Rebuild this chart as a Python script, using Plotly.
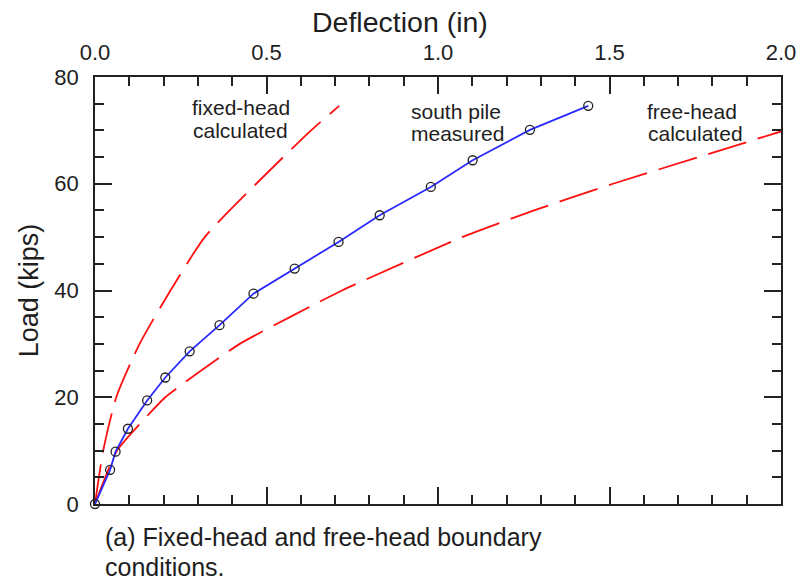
import plotly.graph_objects as go

# Measured load-deflection for the south pile
measured_defl = [0, 0.044, 0.060, 0.096, 0.152, 0.205, 0.276, 0.363, 0.462, 0.582,
                 0.710, 0.830, 0.979, 1.101, 1.268, 1.438]
measured_load = [0, 6.4, 9.8, 14.1, 19.4, 23.7, 28.6, 33.5, 39.4, 44.1,
                 49.1, 54.1, 59.4, 64.4, 70.1, 74.6]

# Calculated response, fixed-head boundary condition
fixed_defl = [0, 0.024, 0.062, 0.130, 0.220, 0.320, 0.470, 0.630, 0.712]
fixed_load = [0, 10, 20, 30, 40, 50, 60, 70, 74.6]

# Calculated response, free-head boundary condition
free_defl = [0, 0.064, 0.205, 0.422, 0.720, 1.070, 1.280, 1.510, 1.760, 2.000]
free_load = [0, 10, 20, 30, 40, 50, 55, 60, 65, 69.8]

FONT = "Liberation Sans, Arial, sans-serif"
TXT = "#1e1e1e"

W, H = 801, 585
L, R, T, B = 95, 20, 77, 81
PW, PH = W - L - R, H - T - B


def px_to_paper(x, y):
    return (x - L) / PW, (H - B - y) / PH


fig = go.Figure()

fig.add_trace(go.Scatter(
    x=fixed_defl, y=fixed_load, mode="lines",
    line=dict(color="#ff1010", width=1.8, dash="40px,12px",
              shape="spline", smoothing=0.6),
    cliponaxis=False, showlegend=False))

fig.add_trace(go.Scatter(
    x=free_defl, y=free_load, mode="lines",
    line=dict(color="#ff1010", width=1.8, dash="40px,12px",
              shape="spline", smoothing=0.4),
    cliponaxis=False, showlegend=False))

fig.add_trace(go.Scatter(
    x=measured_defl, y=measured_load, mode="lines+markers",
    line=dict(color="#2a2aff", width=1.8),
    marker=dict(symbol="circle-open", size=9, color="#222222",
                line=dict(width=1.3, color="#222222")),
    cliponaxis=False, showlegend=False))

annotations = []

# curve labels, one line each
labels = [
    ("fixed-head", 241, 108), ("calculated", 240, 130),
    ("south pile", 456, 111), ("measured", 457, 133),
    ("free-head", 692, 111), ("calculated", 695, 133),
]
for text, px, py in labels:
    ax, ay = px_to_paper(px, py)
    annotations.append(dict(text=text, x=ax, y=ay, xref="paper", yref="paper",
                            xanchor="center", yanchor="middle", showarrow=False,
                            font=dict(family=FONT, size=21, color=TXT)))

# figure caption
for text, py in [("(a) Fixed-head and free-head boundary", 537),
                 ("conditions.", 567)]:
    ax, ay = px_to_paper(103, py)
    annotations.append(dict(text=text, x=ax, y=ay, xref="paper", yref="paper",
                            xanchor="left", yanchor="middle", showarrow=False,
                            font=dict(family=FONT, size=25, color=TXT)))

# axis title on top
ax, ay = px_to_paper(400, 22)
annotations.append(dict(text="Deflection (in)", x=ax, y=ay, xref="paper", yref="paper",
                        xanchor="center", yanchor="middle", showarrow=False,
                        font=dict(family=FONT, size=28.5, color=TXT)))

fig.update_layout(
    width=W, height=H,
    margin=dict(l=L, r=R, t=T, b=B, autoexpand=False),
    paper_bgcolor="white", plot_bgcolor="white",
    font=dict(family=FONT, color=TXT),
    annotations=annotations,
    xaxis=dict(
        range=[0, 2.0], side="top", dtick=0.5, tickformat=".1f",
        showgrid=False, zeroline=False, automargin=False,
        showline=True, linecolor="#222222", linewidth=1.6, mirror="ticks",
        ticks="inside", ticklen=17, tickwidth=1.5, tickcolor="#222222",
        minor=dict(dtick=0.1, ticks="inside", ticklen=9, tickwidth=1.5,
                   tickcolor="#222222", showgrid=False),
        tickfont=dict(family=FONT, size=22, color=TXT),
        ticklabelstandoff=6,
    ),
    yaxis=dict(
        range=[0, 80], dtick=20,
        showgrid=False, zeroline=False, automargin=False,
        showline=True, linecolor="#222222", linewidth=1.6, mirror="ticks",
        ticks="inside", ticklen=17, tickwidth=1.5, tickcolor="#222222",
        minor=dict(dtick=5, ticks="inside", ticklen=9, tickwidth=1.5,
                   tickcolor="#222222", showgrid=False),
        tickfont=dict(family=FONT, size=22, color=TXT),
        ticklabelstandoff=10,
        title=dict(text="Load (kips)", font=dict(family=FONT, size=27, color=TXT),
                   standoff=8),
    ),
)

fig.write_html("out.html")
